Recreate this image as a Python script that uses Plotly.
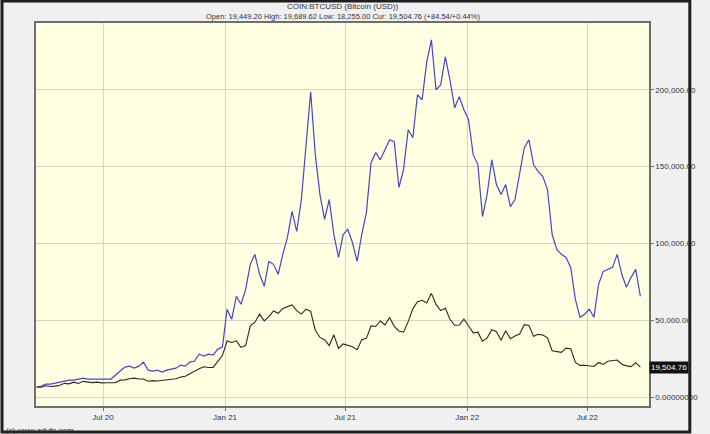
import pandas as pd
import plotly.graph_objects as go

# ==============================================================================
# DADOS (semanais a partir de 23/03/2020)
# ==============================================================================

datas = pd.date_range("2020-03-23", periods=131, freq="7D")

# COIN:BTCUSD - preto
btc = [
    6500, 6400, 7300, 6900, 7100, 7700, 8900, 8600, 9700, 8800,
    10200, 9700, 9400, 9700, 9200, 9300, 9250, 9400, 11000, 11200,
    11900, 12300, 11750, 11700, 10300, 10700, 10400, 10700, 10800, 11550,
    11900, 13000, 13500, 15300, 16700, 18400, 19700, 19200, 19300, 22800,
    27000, 36500, 35500, 36600, 32300, 33500, 46400, 48700, 54000, 49600,
    52300, 56000, 54500, 57600, 58700, 60000, 56200, 54000, 57200, 55800,
    43500, 38800, 37300, 33500, 40500, 31600, 34600, 33700, 32700, 30800,
    37300, 38200, 46300, 45900, 49500, 47000, 51800, 46000, 43000, 42200,
    49100, 57400, 62000, 63000, 61300, 67500, 60300, 56300, 57800, 50600,
    46700, 46900, 50700, 46400, 41800, 42200, 36300, 38500, 43800, 42500,
    37000, 43200, 38000, 39700, 41000, 47100, 46600, 39500, 40800, 40400,
    38500, 30100, 29800, 29100, 31800, 31400, 22500, 20600, 20700, 20200,
    19900, 22500, 21200, 23300, 23800, 24100, 21400, 20300, 19800, 22400,
    19504.76,
]

# série azul
azul = [
    6500, 7100, 8400, 8400, 9100, 9700, 10400, 11000, 11000, 11700,
    12300, 11700, 11700, 11700, 11700, 11700, 11700, 14300, 16900, 19500,
    20100, 18800, 20100, 22700, 17500, 16900, 17500, 16200, 17500, 18200,
    18800, 20800, 20100, 22700, 23400, 27900, 26600, 27900, 27300, 31200,
    32500, 57100, 50600, 65600, 60400, 70100, 86400, 92900, 79900, 72100,
    88300, 86400, 79900, 92900, 103900, 120800, 107800, 128600, 161000, 198700,
    157800, 131800, 115600, 128600, 105800, 90900, 105800, 109100, 100600, 88300,
    105800, 120100, 152600, 159100, 154500, 161000, 167500, 166200, 136400, 148100,
    174000, 168800, 196800, 193500, 218200, 232500, 200000, 203200, 221400, 206500,
    188300, 195500, 187000, 180500, 157800, 151300, 117500, 131800, 154500, 138300,
    131800, 138300, 124000, 128600, 144800, 162300, 167500, 151300, 146800, 143500,
    135100, 105800, 96100, 92900, 90900, 84400, 63600, 51900, 53900, 57100,
    51900, 73400, 81800, 83100, 84400, 92900, 79900, 71400, 77900, 83100,
    65600,
]

y_ticks = [0, 50000, 100000, 150000, 200000]
y_labels = ["0.00000000", "50,000.00", "100,000.00", "150,000.00", "200,000.00"]

x_ticks = ["2020-07-01", "2021-01-01", "2021-07-01", "2022-01-01", "2022-07-01"]
x_labels = ["Jul 20", "Jan 21", "Jul 21", "Jan 22", "Jul 22"]

titulo = "COIN:BTCUSD (Bitcoin (USD))"
subtitulo = "Open: 19,449.20 High: 19,689.62 Low: 18,255.00 Cur: 19,504.76 (+84.54/+0.44%)"

# ==============================================================================
# FIGURA
# ==============================================================================

FONTE = "Liberation Sans, Arial, sans-serif"

fig = go.Figure()
fig.add_trace(go.Scatter(x=datas, y=azul, mode="lines",
                         line=dict(color="#4646d2", width=1.2), showlegend=False))
fig.add_trace(go.Scatter(x=datas, y=btc, mode="lines",
                         line=dict(color="#2a2a24", width=1.1), showlegend=False))

fig.update_layout(
    width=710, height=434,
    margin=dict(l=36, r=43, t=23, b=27),
    paper_bgcolor="#f0f0f0",
    plot_bgcolor="#ffffe1",
    font=dict(family=FONTE, size=8, color="#333333"),
    showlegend=False,
)

fig.update_xaxes(
    range=["2020-03-22", "2022-10-02"],
    tickvals=x_ticks, ticktext=x_labels,
    showgrid=True, gridcolor="#d6d6c0", gridwidth=1,
    showline=True, linecolor="#6e6e6a", linewidth=1.5, mirror=True,
    ticks="outside", ticklen=3, tickcolor="#6e6e6a",
    tickfont=dict(size=8), zeroline=False,
)
fig.update_yaxes(
    range=[-5840, 243500], side="right",
    tickvals=y_ticks, ticktext=y_labels,
    showgrid=True, gridcolor="#d6d6c0", gridwidth=1,
    showline=True, linecolor="#6e6e6a", linewidth=1.5, mirror=True,
    ticks="outside", ticklen=3, tickcolor="#6e6e6a",
    tickfont=dict(size=8), zeroline=False,
)

# títulos no topo
fig.add_annotation(text=titulo, xref="paper", yref="paper", x=0.5, y=1 + 17 / 384,
                   xanchor="center", yanchor="middle", showarrow=False,
                   font=dict(size=8, color="#333333"))
fig.add_annotation(text=subtitulo, xref="paper", yref="paper", x=0.5, y=1 + 7 / 384,
                   xanchor="center", yanchor="middle", showarrow=False,
                   font=dict(size=7.5, color="#333333"))

# etiqueta do último valor
fig.add_annotation(text=f"{btc[-1]:,.2f}", xref="paper", yref="y", x=1.0, y=btc[-1],
                   xanchor="left", yanchor="middle", showarrow=False,
                   bgcolor="#111111", font=dict(size=8, color="#ffffff"),
                   borderpad=1)

# rodapé
fig.add_annotation(text="(c) www.advfn.com", xref="paper", yref="paper",
                   x=-33 / 631, y=-25 / 384, xanchor="left", yanchor="middle",
                   showarrow=False, font=dict(size=8, color="#333333"))

# moldura escura em volta da imagem
fig.add_shape(type="rect", xref="paper", yref="paper",
              x0=-35 / 631, x1=673 / 631, y0=-26 / 384, y1=1 + 22 / 384,
              line=dict(color="#1e1e1e", width=3), fillcolor="rgba(0,0,0,0)")

fig.write_html("out.html", config={"displayModeBar": False},
               post_script="document.body.style.margin='0';")
